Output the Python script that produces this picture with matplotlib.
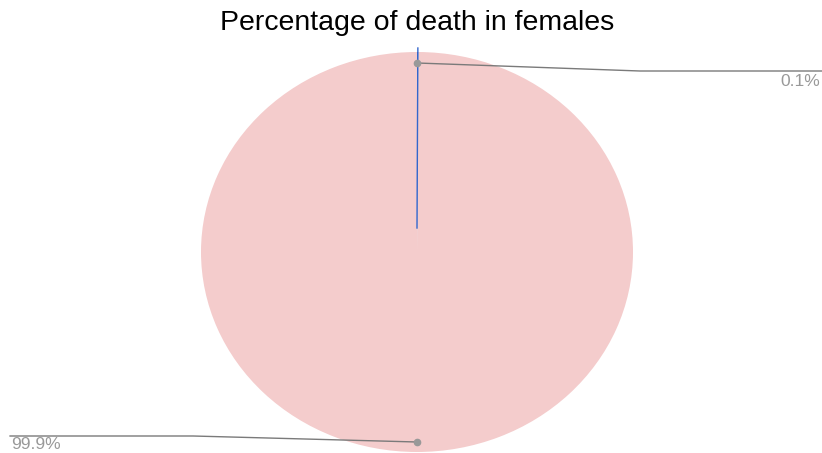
import matplotlib.pyplot as plt

# --- Data ---
labels = ["Deaths", "Survived"]
values = [0.1, 99.9]
pct_labels = ["0.1%", "99.9%"]
colors = ["#3366cc", "#f4cccc"]

plt.rcParams["font.family"] = ["Liberation Sans", "DejaVu Sans"]

fig = plt.figure(figsize=(8.22, 4.53), dpi=100)
ax = fig.add_axes([0, 0, 1, 1])

ax.pie(values, colors=colors, startangle=90, counterclock=False,
       radius=1.0, frame=True,
       wedgeprops=dict(linewidth=0.8, edgecolor="none"))
# thin slice edge so the 0.1% sliver is visible
ax.plot([0, 0.004], [0.12, 1.02], color=colors[0], linewidth=1.0, zorder=3)

# pixel-to-data mapping: px = 417 + 216*x, py = 252 - 200*y
ax.set_aspect("auto")
ax.set_xlim(-417 / 216, (822 - 417) / 216)
ax.set_ylim((252 - 453) / 200, 252 / 200)
ax.axis("off")

line_c = "#7a7a7a"
text_c = "#999999"

# 0.1% leader
ax.plot([0.0, 1.032, 1.875], [0.945, 0.905, 0.905], color=line_c, linewidth=1.0, zorder=4)
ax.plot([0.0], [0.945], "o", color="#999999", markersize=4.5, zorder=5)
ax.text(1.867, 0.85, pct_labels[0], ha="right", va="center", fontsize=12.5, color=text_c)

# 99.9% leader
ax.plot([0.0, -1.037, -1.884], [-0.95, -0.92, -0.92], color=line_c, linewidth=1.0, zorder=4)
ax.plot([0.0], [-0.95], "o", color="#999999", markersize=4.5, zorder=5)
ax.text(-1.877, -0.963, pct_labels[1], ha="left", va="center", fontsize=12.5, color=text_c)

fig.text(417 / 822, 1 - 23 / 453, "Percentage of death in females",
         ha="center", va="center", fontsize=20.5, color="#000000")

fig.savefig("out.png", dpi=100)
